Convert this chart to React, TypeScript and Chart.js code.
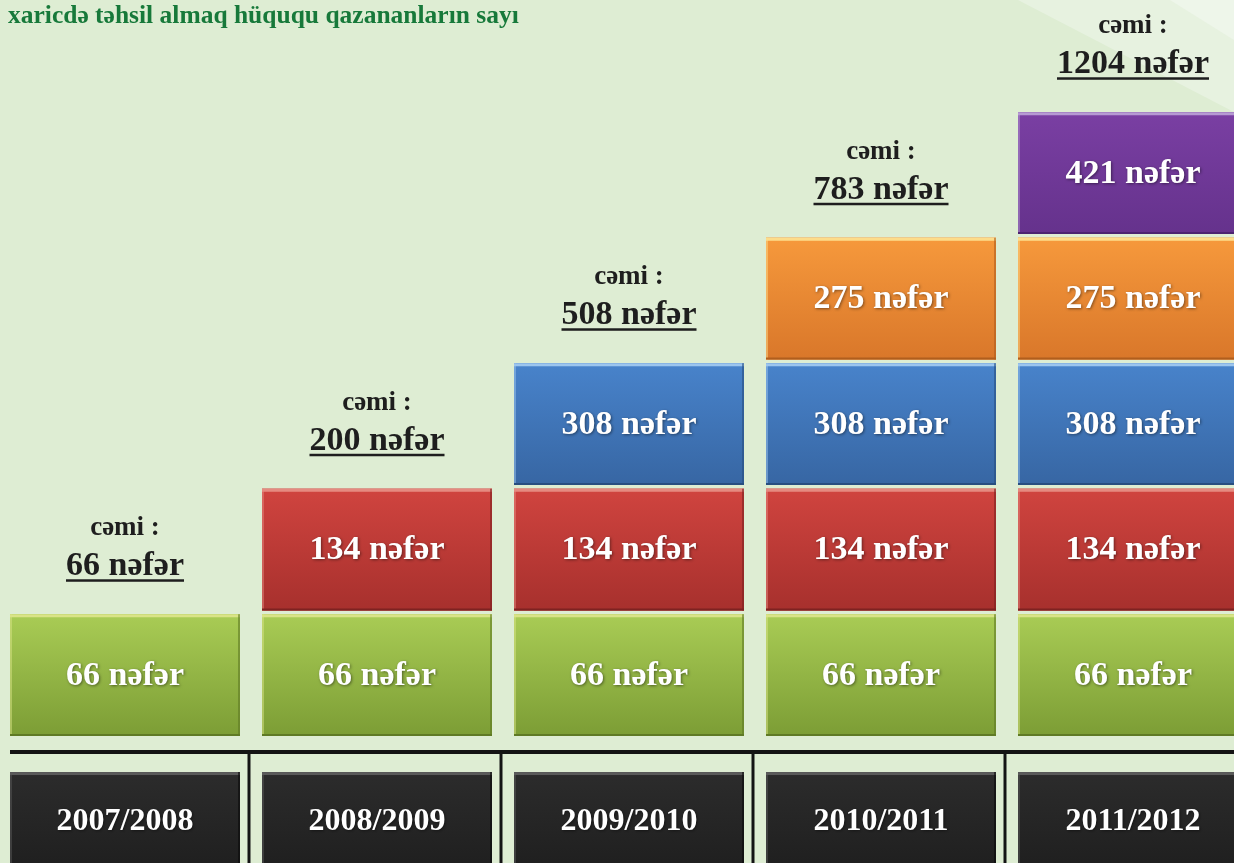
import React, { useEffect, useRef } from 'react';
import { Chart, registerables } from 'chart.js';

Chart.register(...registerables);

// ---- data ----
const years = ['2007/2008', '2008/2009', '2009/2010', '2010/2011', '2011/2012'];
const green = [66, 66, 66, 66, 66];
const red = [null, 134, 134, 134, 134];
const blue = [null, null, 308, 308, 308];
const orange = [null, null, null, 275, 275];
const purple = [null, null, null, null, 421];
const totals = [66, 200, 508, 783, 1204];
const unitWord = 'nəfər';
const totalWord = 'cəmi :';
const titleText = 'xaricdə təhsil almaq hüququ qazananların sayı';

const seriesDefs = [
  { values: green, color: '#8fb540', top: '#a9cc55', bottom: '#7c9d35', hi: '#d9e387', lo: '#5f7a25' },
  { values: red, color: '#c23a37', top: '#d0443f', bottom: '#a7302d', hi: '#e58a80', lo: '#7e2221' },
  { values: blue, color: '#3f74b8', top: '#4883cb', bottom: '#3766a3', hi: '#9cc5ee', lo: '#284e80' },
  { values: orange, color: '#ee8c33', top: '#f6993c', bottom: '#d9772a', hi: '#fddc8a', lo: '#b05e1e' },
  { values: purple, color: '#6f3896', top: '#7a3fa3', bottom: '#65328c', hi: '#b69ad3', lo: '#4c2370' },
];

const BLOCK = 0.97;
const YEAR_TOP = -0.287;
const YEAR_BOTTOM = -1.3;
const RULE_Y = -0.127;

const blockFont = 'bold 34px "Liberation Serif", "Times New Roman", serif';

const decorPlugin = {
  id: 'decor',
  beforeDraw(chart: any) {
    const { ctx, width, height } = chart;
    ctx.save();
    ctx.fillStyle = '#deedd3';
    ctx.fillRect(0, 0, width, height);
    ctx.fillStyle = '#e7f2e0';
    ctx.beginPath();
    ctx.moveTo(1018, 0);
    ctx.lineTo(width, 0);
    ctx.lineTo(width, 112);
    ctx.closePath();
    ctx.fill();
    ctx.fillStyle = '#eef6ea';
    ctx.beginPath();
    ctx.moveTo(1170, 0);
    ctx.lineTo(width, 0);
    ctx.lineTo(width, 40);
    ctx.closePath();
    ctx.fill();
    // title
    ctx.fillStyle = '#17793a';
    ctx.font = 'bold 25.5px "Liberation Serif", serif';
    ctx.textAlign = 'left';
    ctx.textBaseline = 'alphabetic';
    ctx.fillText(titleText, 8, 23);
    ctx.restore();
  },
  beforeDatasetsDraw(chart: any) {
    const { ctx, width, height, scales } = chart;
    const xs = scales.x;
    const ys = scales.y;
    const ry = ys.getPixelForValue(RULE_Y);
    ctx.save();
    ctx.strokeStyle = '#141414';
    ctx.lineWidth = 4;
    ctx.beginPath();
    ctx.moveTo(xs.getPixelForValue(0) - 115, ry);
    ctx.lineTo(width, ry);
    ctx.stroke();
    ctx.lineWidth = 3;
    for (let i = 0; i < years.length - 1; i++) {
      const xm = (xs.getPixelForValue(i) + xs.getPixelForValue(i + 1)) / 2 - 2;
      ctx.beginPath();
      ctx.moveTo(xm, ry);
      ctx.lineTo(xm, height);
      ctx.stroke();
    }
    ctx.restore();
  },
  afterDatasetsDraw(chart: any) {
    const { ctx, scales } = chart;
    const ys = scales.y;
    ctx.save();
    chart.data.datasets.forEach((ds: any, di: number) => {
      const meta = chart.getDatasetMeta(di);
      meta.data.forEach((el: any, j: number) => {
        const p = el.getProps(['x', 'y', 'base', 'width'], true);
        const left = p.x - p.width / 2;
        const top = Math.min(p.y, p.base);
        const bottom = Math.max(p.y, p.base);
        const h = bottom - top;
        const g = ctx.createLinearGradient(0, top, 0, bottom);
        g.addColorStop(0, ds.topColor);
        g.addColorStop(1, ds.bottomColor);
        ctx.fillStyle = g;
        ctx.fillRect(left, top, p.width, h);
        ctx.fillStyle = ds.hiColor;
        ctx.fillRect(left, top, p.width, 3);
        ctx.globalAlpha = 0.5;
        ctx.fillRect(left, top, 2, h);
        ctx.globalAlpha = 1;
        ctx.fillStyle = ds.loColor;
        ctx.fillRect(left, bottom - 2, p.width, 2);
        ctx.globalAlpha = 0.6;
        ctx.fillRect(left + p.width - 2, top, 2, h);
        ctx.globalAlpha = 1;
        const raw = ds.labelsText[j];
        ctx.shadowColor = 'rgba(0,0,0,0.45)';
        ctx.shadowBlur = 3;
        ctx.shadowOffsetX = 1;
        ctx.shadowOffsetY = 1;
        ctx.fillStyle = '#ffffff';
        ctx.textAlign = 'center';
        ctx.textBaseline = 'middle';
        if (ds.isYear) {
          ctx.font = 'bold 32px "Liberation Serif", "Times New Roman", serif';
          ctx.fillText(raw, p.x, ys.getPixelForValue(-0.68));
        } else {
          ctx.font = blockFont;
          ctx.fillText(raw, p.x, top + h / 2 + 1);
        }
        ctx.shadowColor = 'transparent';
        ctx.shadowBlur = 0;
        ctx.shadowOffsetX = 0;
        ctx.shadowOffsetY = 0;
      });
    });
    const xs = scales.x;
    totals.forEach((t, i) => {
      let levels = 0;
      seriesDefs.forEach((s) => { if (s.values[i] != null) levels++; });
      const topPx = ys.getPixelForValue(levels - 1 + BLOCK);
      const cx = xs.getPixelForValue(i);
      ctx.fillStyle = '#1e1e1e';
      ctx.textAlign = 'center';
      ctx.textBaseline = 'alphabetic';
      ctx.font = 'bold 27px "Liberation Serif", "Times New Roman", serif';
      ctx.fillText(totalWord, cx, topPx - 79);
      ctx.font = blockFont;
      const txt = `${t} ${unitWord}`;
      const base = topPx - 39;
      ctx.fillText(txt, cx, base);
      const w = ctx.measureText(txt).width;
      ctx.fillRect(cx - w / 2, base + 4, w, 2.5);
    });
    ctx.restore();
  },
};

export default function App() {
  const ref = useRef<HTMLCanvasElement | null>(null);
  useEffect(() => {
    if (!ref.current) return;
    const datasets: any[] = seriesDefs.map((s, k) => {
      const pts: any[] = [];
      const lbls: string[] = [];
      s.values.forEach((v, i) => {
        if (v != null) {
          pts.push({ x: i, y: [k, k + BLOCK] });
          lbls.push(`${v} ${unitWord}`);
        }
      });
      return {
        label: `series ${k + 1}`,
        data: pts,
        labelsText: lbls,
        backgroundColor: s.color,
        topColor: s.top,
        bottomColor: s.bottom,
        hiColor: s.hi,
        loColor: s.lo,
        borderWidth: 0,
        grouped: false,
        barPercentage: 230 / 252,
        categoryPercentage: 1,
      };
    });
    datasets.push({
      label: 'years',
      data: years.map((_, i) => ({ x: i, y: [YEAR_BOTTOM, YEAR_TOP] })),
      labelsText: years,
      isYear: true,
      backgroundColor: '#222222',
      topColor: '#2c2c2c',
      bottomColor: '#1b1b1b',
      hiColor: '#5a5a5a',
      loColor: '#0a0a0a',
      borderWidth: 0,
      grouped: false,
      barPercentage: 230 / 252,
      categoryPercentage: 1,
    });
    const pxPerUnitX = 252;
    const xMin = -125 / pxPerUnitX;
    const xMax = xMin + 1234 / pxPerUnitX;
    const pxPerUnitY = 125.5;
    const yMax = 736 / pxPerUnitY;
    const yMin = (736 - 863) / pxPerUnitY;
    const chart = new Chart(ref.current, {
      type: 'bar',
      data: { datasets },
      options: {
        responsive: false,
        animation: false,
        devicePixelRatio: 1,
        layout: { padding: 0 },
        plugins: { legend: { display: false }, tooltip: { enabled: false }, title: { display: false } },
        scales: {
          x: {
            type: 'linear',
            min: xMin,
            max: xMax,
            offset: false,
            display: false,
            afterBuildTicks: (scale: any) => {
              scale.ticks = years.map((_, i) => ({ value: i }));
            },
          },
          y: { type: 'linear', min: yMin, max: yMax, display: false },
        },
      } as any,
      plugins: [decorPlugin],
    });
    return () => chart.destroy();
  }, []);
  return (
    <div style={{ position: 'absolute', left: 0, top: 0, width: 1234, height: 863, overflow: 'hidden' }}>
      <canvas ref={ref} width={1234} height={863} style={{ display: 'block', width: 1234, height: 863 }} />
    </div>
  );
}
